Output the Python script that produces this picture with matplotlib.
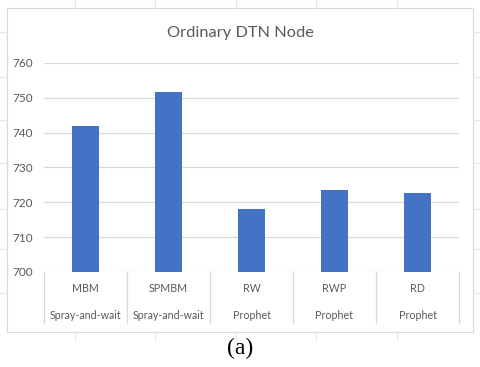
# Bar chart: Ordinary DTN Node, Excel-style with two-row category labels.
import matplotlib
matplotlib.use("Agg")
import matplotlib.pyplot as plt
from matplotlib.lines import Line2D
from matplotlib.patches import Rectangle

# Data.
models = ["MBM", "SPMBM", "RW", "RWP", "RD"]
routers = ["Spray-and-wait", "Spray-and-wait", "Prophet", "Prophet", "Prophet"]
values = [742.0, 751.8, 718.0, 723.4, 722.6]
y_ticks = [700, 710, 720, 730, 740, 750, 760]

W, H = 480, 367
grey_text = "#595959"
grid_col = "#d9d9d9"
bar_col = "#4472c4"

fig = plt.figure(figsize=(W / 100, H / 100), dpi=100)
fig.patch.set_facecolor("white")

# Chart frame and the faint sheet-cell marks around it.
fig.add_artist(Rectangle((7 / W, 1 - 332 / H), 466 / W, 324 / H, transform=fig.transFigure,
                         fill=False, edgecolor="#d9d9d9", lw=0.8))
for x in [75, 155, 236, 316, 397]:
    fig.add_artist(Line2D([x / W, x / W], [1, 1 - 8 / H], transform=fig.transFigure, color="#e6e6e6", lw=0.8))
    fig.add_artist(Line2D([x / W, x / W], [1 - 332 / H, 1 - 340 / H], transform=fig.transFigure, color="#e6e6e6", lw=0.8))
for y in [32, 77, 120, 163, 209, 249, 293]:
    fig.add_artist(Line2D([0, 7 / W], [1 - y / H, 1 - y / H], transform=fig.transFigure, color="#e6e6e6", lw=0.8))
    fig.add_artist(Line2D([473 / W, 1], [1 - y / H, 1 - y / H], transform=fig.transFigure, color="#e6e6e6", lw=0.8))

# Plot area.
ax = fig.add_axes([44 / W, 1 - 272 / H, 415 / W, 209 / H])
ax.bar(range(len(models)), [v - 700 for v in values], bottom=700, width=0.32, color=bar_col, zorder=3)
ax.set_xlim(-0.5, len(models) - 0.5)
ax.set_ylim(700, 760)
ax.set_yticks(y_ticks)
ax.set_yticklabels([str(t) for t in y_ticks], color=grey_text, fontsize=8.5, family="Lato")
ax.tick_params(axis="y", length=0, pad=8)
ax.set_xticks([])
for s in ax.spines.values():
    s.set_visible(False)
ax.grid(axis="y", color=grid_col, lw=0.9, zorder=0)

# Category box below the axis.
tr = ax.get_xaxis_transform()
for i in range(len(models) + 1):
    ax.plot([i - 0.5, i - 0.5], [0, -0.244], transform=tr, color=grid_col, lw=0.9, clip_on=False)
for i, (m, r) in enumerate(zip(models, routers)):
    ax.text(i, -0.081, m, transform=tr, ha="center", va="center", color=grey_text, fontsize=7.7, family="Lato")
    ax.text(i, -0.206, r, transform=tr, ha="center", va="center", color=grey_text, fontsize=7.7, family="Lato")

fig.text(0.5, 1 - 33 / H, "Ordinary DTN Node", ha="center", va="center", color=grey_text, fontsize=11.8, family="Lato")
fig.text(0.5, 1 - 348 / H, "(a)", ha="center", va="center", color="black", fontsize=17, family="Liberation Serif")

fig.savefig("out.png", dpi=100)
